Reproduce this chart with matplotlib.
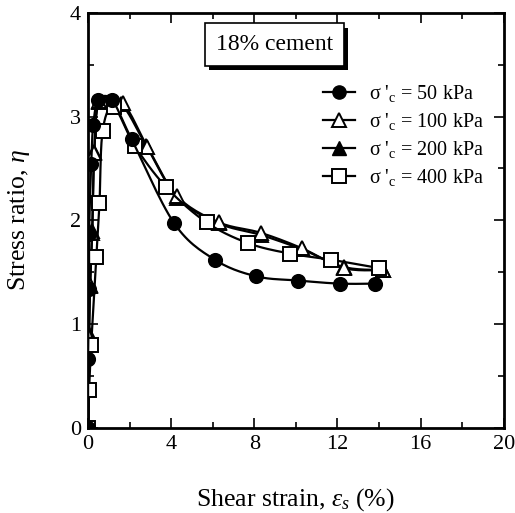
import numpy as np
import matplotlib.pyplot as plt
import matplotlib.patheffects as pe
from matplotlib.lines import Line2D
from matplotlib.ticker import MultipleLocator

plt.rcParams['font.family'] = ['Liberation Serif', 'DejaVu Serif']
plt.rcParams['mathtext.fontset'] = 'custom'
plt.rcParams['mathtext.rm'] = 'Liberation Serif'
plt.rcParams['mathtext.it'] = 'Liberation Serif:italic'

# shear strain (%) and stress ratio for each confining pressure
x_50 = [0, 0.0, 0.05, 0.05, 0.15, 0.25, 0.5, 1.15, 2.1, 4.15, 6.1, 8.1, 10.1, 12.1, 13.8]
y_50 = [0, 0.66, 1.34, 1.87, 2.54, 2.92, 3.16, 3.16, 2.78, 1.97, 1.62, 1.46, 1.42, 1.39, 1.39]

x_100 = [0, 0.05, 0.1, 0.2, 0.3, 0.55, 1.67, 2.85, 4.3, 6.3, 8.3, 10.3, 12.3, 14.2]
y_100 = [0, 0.88, 1.37, 1.88, 2.65, 3.15, 3.13, 2.71, 2.23, 1.98, 1.88, 1.73, 1.54, 1.52]

x_200 = [0, 0.05, 0.1, 0.2, 0.3, 0.55, 1.6, 2.8, 4.3, 6.3, 8.3, 10.3, 12.3, 14.2]
y_200 = [0, 0.9, 1.38, 1.9, 2.66, 3.14, 3.12, 2.72, 2.22, 1.97, 1.86, 1.72, 1.55, 1.52]

x_400 = [0, 0.05, 0.15, 0.4, 0.55, 0.7, 1.24, 2.24, 3.76, 5.7, 7.7, 9.7, 11.7, 14.0]
y_400 = [0, 0.36, 0.80, 1.65, 2.17, 2.86, 3.09, 2.72, 2.32, 1.98, 1.78, 1.68, 1.62, 1.54]

labels = ["σ '$_\\mathrm{c}$ = 50 kPa", "σ '$_\\mathrm{c}$ = 100 kPa",
          "σ '$_\\mathrm{c}$ = 200 kPa", "σ '$_\\mathrm{c}$ = 400 kPa"]


def smooth(x, y, n=16):
    # catmull-rom curve through the points (for the drawn line only)
    p = np.column_stack([np.asarray(x, float) / 20 * 4.2, np.asarray(y, float) * 1.04])
    p = np.vstack([p[0], p, p[-1]])
    out = []
    for i in range(1, len(p) - 2):
        p0, p1, p2, p3 = p[i - 1], p[i], p[i + 1], p[i + 2]
        t = np.linspace(0, 1, n)[:, None]
        c = 0.5 * ((2 * p1) + (-p0 + p2) * t + (2 * p0 - 5 * p1 + 4 * p2 - p3) * t ** 2
                   + (-p0 + 3 * p1 - 3 * p2 + p3) * t ** 3)
        out.append(c)
    c = np.vstack(out)
    return c[:, 0] / 4.2 * 20, c[:, 1] / 1.04


fig = plt.figure(figsize=(5.15, 5.13), dpi=100)
ax = fig.add_axes([0.171, 0.166, 0.807, 0.809])

series = [(x_200, y_200, '^', 'black', 2), (x_100, y_100, '^', 'white', 3),
          (x_400, y_400, 's', 'white', 4), (x_50, y_50, 'o', 'black', 5)]
for xs, ys, m, fc, z in series:
    sx, sy = smooth(xs, ys)
    ax.plot(sx, sy, color='black', lw=1.6, zorder=z)
    ax.plot(xs, ys, ls='none', marker=m, markerfacecolor=fc, markeredgecolor='black',
            markersize=9.5, markeredgewidth=1.4, zorder=z)

ax.set_xlim(0, 20)
ax.set_ylim(0, 4)
ax.xaxis.set_major_locator(MultipleLocator(4))
ax.xaxis.set_minor_locator(MultipleLocator(2))
ax.yaxis.set_major_locator(MultipleLocator(1))
ax.yaxis.set_minor_locator(MultipleLocator(0.5))
ax.tick_params(which='both', direction='in', top=True, right=True, width=1.2)
ax.tick_params(which='major', length=7, labelsize=16, pad=5)
ax.tick_params(which='minor', length=4)
for s in ax.spines.values():
    s.set_linewidth(2)

ax.set_xlabel('Shear strain, $\\mathit{\\varepsilon_s}$ (%)', fontsize=18.5, labelpad=23)
ax.set_ylabel('Stress ratio, $\\mathit{\\eta}$', fontsize=18.5, labelpad=27)

handles = [
    Line2D([], [], color='black', lw=1.6, marker='o', markerfacecolor='black', markersize=9.5),
    Line2D([], [], color='black', lw=1.6, marker='^', markerfacecolor='white', markersize=9.5,
           markeredgewidth=1.4),
    Line2D([], [], color='black', lw=1.6, marker='^', markerfacecolor='black', markersize=9.5),
    Line2D([], [], color='black', lw=1.6, marker='s', markerfacecolor='white', markersize=9.5,
           markeredgewidth=1.4),
]
ax.legend(handles, labels, loc='upper left', bbox_to_anchor=(0.545, 0.85), frameon=False,
          fontsize=14.5, handlelength=1.6, handletextpad=0.7, labelspacing=0.35,
          borderaxespad=0)

t = ax.text(0.448, 0.923, '18% cement', transform=ax.transAxes, fontsize=17,
            ha='center', va='center',
            bbox=dict(boxstyle='square,pad=0.46', fc='white', ec='black', lw=1.2))
t.get_bbox_patch().set_path_effects([
    pe.SimplePatchShadow(offset=(3, -3), shadow_rgbFace='black', alpha=1), pe.Normal()])

fig.savefig('out.png', dpi=100)
